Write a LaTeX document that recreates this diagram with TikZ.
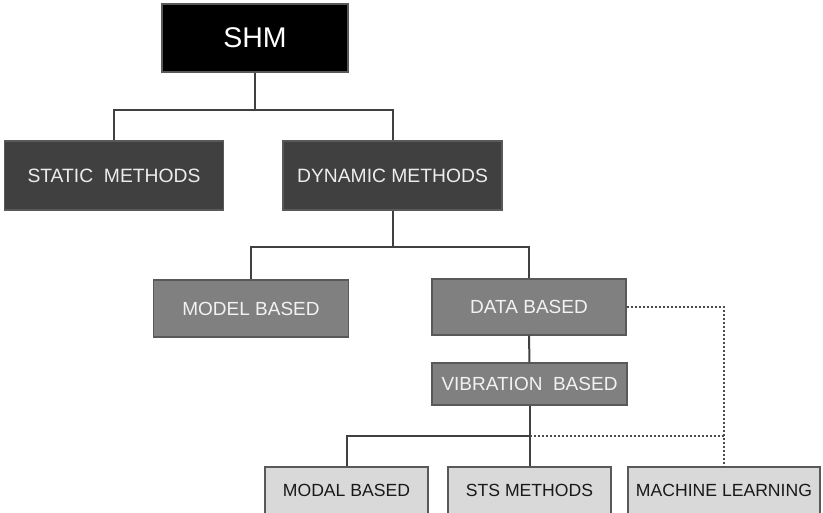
\documentclass[tikz,border=0pt]{standalone}
\usepackage{fontspec}
\setmainfont{Liberation Sans}
\begin{document}
\begin{tikzpicture}[x=1pt,y=-1pt,
  box/.style={draw=black!65, line width=1.2pt, inner sep=0pt, anchor=center},
  topbox/.style={box, fill=black, text=white, font=\fontsize{28.5}{30}\selectfont},
  darkbox/.style={box, fill=black!75, text=black!7, font=\fontsize{19.3}{21}\selectfont},
  midbox/.style={box, fill=black!50, text=black!5, font=\fontsize{19}{21}\selectfont},
  leafbox/.style={box, fill=black!15, text=black!90, font=\fontsize{17.6}{20}\selectfont},
  link/.style={draw=black!75, line width=2pt},
  softlink/.style={draw=black!70, line width=2pt, dotted}]
\useasboundingbox (0,0) rectangle (823,513);

% top level
\node[topbox, minimum width=186pt, minimum height=68pt] (shm) at (255,38) {SHM};

% methods
\node[darkbox, minimum width=219pt, minimum height=69pt] (static) at (114,175.5) {STATIC\ \ METHODS};
\node[darkbox, minimum width=219pt, minimum height=69pt] (dynamic) at (392.5,175.5) {DYNAMIC METHODS};

% approaches
\node[midbox, minimum width=195pt, minimum height=57pt] (model) at (251,308.5) {MODEL BASED};
\node[midbox, minimum width=194pt, minimum height=56pt] (data) at (529,307) {DATA BASED};
\node[midbox, minimum width=195pt, minimum height=42pt] (vib) at (529.5,384) {VIBRATION\ \ BASED};

% techniques
\node[leafbox, minimum width=163pt, minimum height=47pt] (modal) at (346.5,490.5) {MODAL BASED};
\node[leafbox, minimum width=163pt, minimum height=47pt] (sts) at (529.5,490.5) {STS METHODS};
\node[leafbox, minimum width=192pt, minimum height=47pt] (ml) at (724,490.5) {MACHINE LEARNING};

% bus points
\coordinate (busA) at (255,110);
\coordinate (busB) at (392.5,247);
\coordinate (busC) at (529.5,436);
\coordinate (corner) at (ml.north |- data.east);

% solid tree connectors
\draw[link] (shm.south) -- (busA);
\draw[link] (static.north) |- (busA) -| (dynamic.north);
\draw[link] (dynamic.south) -- (busB);
\draw[link] (model.north) |- (busB) -| (data.north);
\draw[link] (data.south) -- (vib.north);
\draw[link] (vib.south) -- (busC);
\draw[link] (modal.north) |- (busC) -- (sts.north);

% dotted links to machine learning
\draw[softlink] (data.east) -- (corner) -- (ml.north);
\draw[softlink] (busC) -- (ml.north |- busC);
\end{tikzpicture}
\end{document}
